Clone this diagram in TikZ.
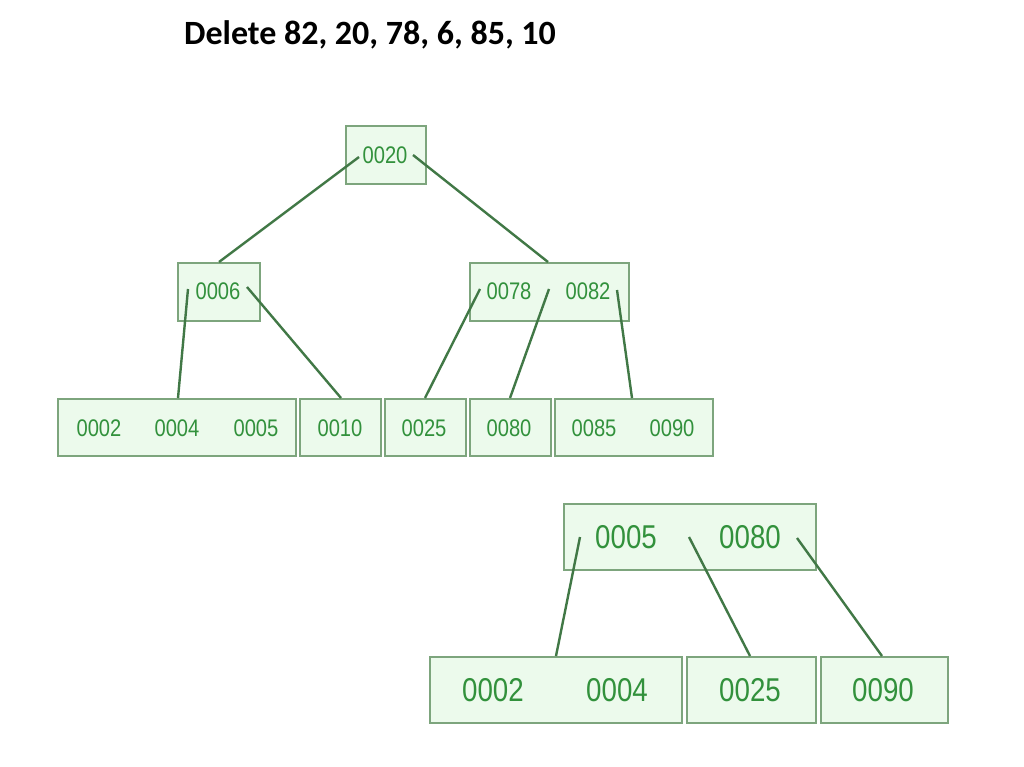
\documentclass[tikz,border=0pt]{standalone}
\usepackage{fontspec}
\setmainfont{Carlito}
\newfontfamily\keyfont[FakeStretch=0.84]{Liberation Sans}
\definecolor{boxline}{RGB}{125,165,125}
\definecolor{boxfill}{RGB}{236,250,236}
\definecolor{keytext}{RGB}{50,145,60}
\definecolor{edgecol}{RGB}{65,120,70}
\tikzset{
  bbox/.style={draw=boxline, fill=boxfill, line width=2pt, inner sep=0pt, anchor=north west},
  keyA/.style={text=keytext, font=\keyfont\fontsize{24}{24}\selectfont, inner sep=0pt},
  keyB/.style={text=keytext, font=\keyfont\fontsize{33}{33}\selectfont, inner sep=0pt},
  edge/.style={draw=edgecol, line width=2.4pt},
}
\begin{document}
\begin{tikzpicture}[x=1pt,y=-1pt]
\useasboundingbox (0,0) rectangle (1024,767);
% title
\node[font=\bfseries\fontsize{34}{34}\selectfont, anchor=base] (title) at (370,45) {Delete 82, 20, 78, 6, 85, 10};
% first tree boxes
\node[bbox, minimum width=80pt, minimum height=58pt] (root) at (345,125) {};
\node[bbox, minimum width=82pt, minimum height=58pt] (n6) at (177,262) {};
\node[bbox, minimum width=159pt, minimum height=58pt] (n78) at (469,262) {};
\node[bbox, minimum width=238pt, minimum height=57pt] (lA) at (57,398) {};
\node[bbox, minimum width=81pt, minimum height=57pt] (lB) at (299,398) {};
\node[bbox, minimum width=81pt, minimum height=57pt] (lC) at (384,398) {};
\node[bbox, minimum width=81pt, minimum height=57pt] (lD) at (469,398) {};
\node[bbox, minimum width=158pt, minimum height=57pt] (lE) at (554,398) {};
% first tree keys
\node[keyA] (k20) at (385,155) {0020};
\node[keyA] (k6) at (218,291) {0006};
\node[keyA] (k78) at (509,291) {0078};
\node[keyA] (k82) at (588,291) {0082};
\node[keyA] (k2) at (99,428) {0002};
\node[keyA] (k4) at (177,428) {0004};
\node[keyA] (k5) at (256,428) {0005};
\node[keyA] (k10) at (340,428) {0010};
\node[keyA] (k25) at (424,428) {0025};
\node[keyA] (k80) at (509,428) {0080};
\node[keyA] (k85) at (594,428) {0085};
\node[keyA] (k90) at (672,428) {0090};
% first tree edges
\coordinate (r0) at (359,157);
\coordinate (r1) at (413,155);
\coordinate (a0) at (188,289);
\coordinate (a1) at (247,287);
\coordinate (b0) at (480,289);
\coordinate (b1) at (549,289);
\coordinate (b2) at (617,290);
\coordinate (t6) at (219,262);
\coordinate (t78) at (548,262);
\coordinate (tA) at (178,398);
\coordinate (tB) at (341,398);
\coordinate (tC) at (425,398);
\coordinate (tD) at (510,398);
\coordinate (tE) at (632,398);
\draw[edge] (r0) -- (t6);
\draw[edge] (r1) -- (t78);
\draw[edge] (a0) -- (tA);
\draw[edge] (a1) -- (tB);
\draw[edge] (b0) -- (tC);
\draw[edge] (b1) -- (tD);
\draw[edge] (b2) -- (tE);
% second tree boxes
\node[bbox, minimum width=252pt, minimum height=66pt] (root2) at (563,503) {};
\node[bbox, minimum width=252pt, minimum height=66pt] (m1) at (429,656) {};
\node[bbox, minimum width=129pt, minimum height=66pt] (m2) at (686,656) {};
\node[bbox, minimum width=127pt, minimum height=66pt] (m3) at (820,656) {};
% second tree keys
\node[keyB] (q5) at (626,537) {0005};
\node[keyB] (q80) at (750,537) {0080};
\node[keyB] (q2) at (493,690) {0002};
\node[keyB] (q4) at (617,690) {0004};
\node[keyB] (q25) at (750,690) {0025};
\node[keyB] (q90) at (883,690) {0090};
% second tree edges
\coordinate (s0) at (580,537);
\coordinate (s1) at (689,537);
\coordinate (s2) at (797,538);
\coordinate (u1) at (556,656);
\coordinate (u2) at (750,656);
\coordinate (u3) at (882,656);
\draw[edge] (s0) -- (u1);
\draw[edge] (s1) -- (u2);
\draw[edge] (s2) -- (u3);
\end{tikzpicture}
\end{document}
